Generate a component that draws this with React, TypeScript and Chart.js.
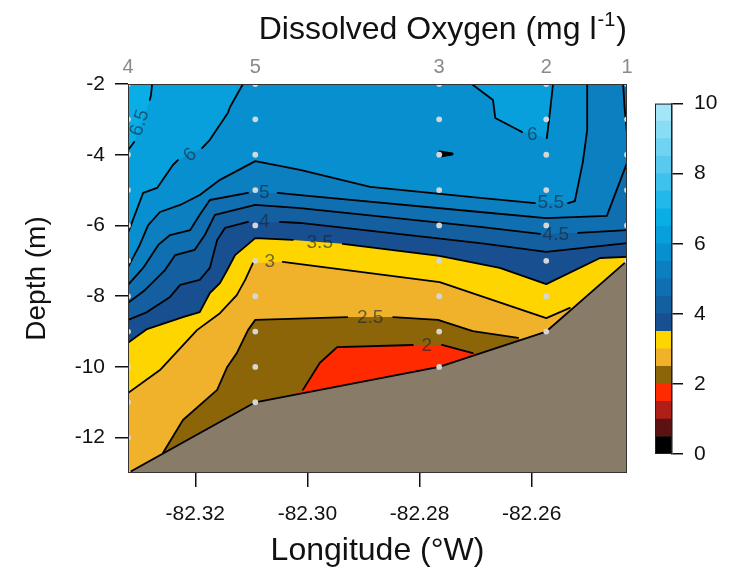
import React, { useEffect, useRef } from 'react';
import { Chart, registerables } from 'chart.js';

Chart.register(...registerables);

type Pt = [number, number] | null;

const FONT = '"Liberation Sans", Arial, Helvetica, sans-serif';

// ---- axis extents & ticks ----
const lonMin = -82.332;
const lonMax = -82.243;
const depthMin = -13;
const depthMax = -2;
const xTickValues = [-82.32, -82.3, -82.28, -82.26];
const yTickValues = [-12, -10, -8, -6, -4, -2];
const colorbarTickValues = [0, 2, 4, 6, 8, 10];

// ---- stations & samples ----
const stationNames = ['4', '5', '3', '2', '1'];
const stationLons = [-82.332, -82.3093, -82.2765, -82.2574, -82.243];
const st4Depths = [-2, -3, -4, -5, -6, -7, -8, -9, -10, -11, -12, -13];
const st5Depths = [-2, -3, -4, -5, -6, -7, -8, -9, -10, -11];
const st3Depths = [-2, -3, -4, -5, -6, -7, -8, -9, -10];
const st2Depths = [-2, -3, -4, -5, -6, -7, -8, -9];
const st1Depths = [-2, -3, -4, -5, -6, -7];
const stationDepths = [st4Depths, st5Depths, st3Depths, st2Depths, st1Depths];
const seafloorDepths = [-13, -11, -10, -9, -7];

// ---- colour scale (0..10 mg/l, 0.5 steps) ----
const bandLevels = [0, 0.5, 1, 1.5, 2, 2.5, 3, 3.5, 4, 4.5, 5, 5.5, 6, 6.5, 7, 7.5, 8, 8.5, 9, 9.5, 10];
const bandColors = [
  '#000000', '#5c1212', '#b01e18', '#ff2a00', '#8b6508', '#efb22a', '#ffd500',
  '#174f90', '#135f9f', '#0f6fb0', '#0b7fc0', '#088fcf', '#08a0dc', '#0aaee6',
  '#22b9ea', '#3ec2ec', '#58caee', '#70d3f1', '#88dcf4', '#a2e6f7',
];
const SEAFLOOR = '#887b67';

// ---- contour lines (lon, depth); null = gap for label ----
const contour65: Pt[] = [[-82.332, -3.87], [-82.3309, -3.64], null, [-82.3281, -2.45], [-82.3279, -2.31], [-82.3277, -2.0]];
const contour6Left: Pt[] = [[-82.332, -6.21], [-82.3293, -5.08], [-82.3268, -4.94], [-82.324, -4.29], [-82.3231, -4.15], null,
  [-82.3188, -3.81], [-82.3174, -3.58], [-82.3142, -2.82], [-82.3138, -2.65], [-82.3115, -2.0]];
const contour6Right: Pt[] = [[-82.2707, -2.0], [-82.2669, -2.45], [-82.2665, -2.96], [-82.2624, -3.3], [-82.2617, -3.36], null,
  [-82.2573, -3.53], [-82.2567, -2.74], [-82.2562, -2.0]];
const contour55: Pt[] = [[-82.332, -7.18], [-82.3299, -6.55], [-82.3284, -5.99], [-82.3263, -5.62], [-82.3227, -5.42],
  [-82.3192, -5.14], [-82.3156, -4.71], [-82.3093, -4.18], [-82.3013, -4.43], [-82.2888, -4.91], [-82.2692, -5.22],
  [-82.2594, -5.37], null, [-82.2535, -5.37], [-82.2523, -5.31], [-82.2509, -4.23], [-82.2501, -3.3], [-82.2501, -2.0]];
const contour5: Pt[] = [[-82.332, -7.68], [-82.3293, -7.2], [-82.3266, -6.55], [-82.3245, -6.27], [-82.3209, -6.13],
  [-82.3192, -5.7], [-82.3174, -5.28], [-82.3106, -5.08], null, [-82.3053, -5.08], [-82.3013, -5.14], [-82.2692, -5.62],
  [-82.2574, -5.79], [-82.2466, -5.73], [-82.243, -4.23]];
const contour5Corner: Pt[] = [[-82.2437, -2.0], [-82.2434, -2.74], [-82.243, -3.39]];
const contour45: Pt[] = [[-82.332, -8.19], [-82.329, -7.83], [-82.3254, -7.26], [-82.3236, -6.84], [-82.3201, -6.69],
  [-82.3183, -6.27], [-82.3165, -5.7], [-82.3093, -5.42], [-82.3013, -5.51], [-82.2692, -6.04], [-82.2585, -6.24], null,
  [-82.2517, -6.21], [-82.243, -6.13]];
const contour4: Pt[] = [[-82.332, -8.67], [-82.3286, -8.45], [-82.3245, -8.02], [-82.3227, -7.68], [-82.3192, -7.54],
  [-82.3174, -7.2], [-82.3161, -6.41], [-82.3147, -6.07], [-82.3106, -5.9], null, [-82.3049, -5.9], [-82.3013, -5.93],
  [-82.2692, -6.5], [-82.2574, -6.75], [-82.243, -6.5]];
const contour35: Pt[] = [[-82.332, -9.32], [-82.3286, -8.93], [-82.3222, -8.59], [-82.3192, -8.45], [-82.3174, -7.91],
  [-82.3156, -7.63], [-82.3143, -7.26], [-82.3129, -6.84], [-82.3093, -6.36], [-82.3026, -6.41], null,
  [-82.2937, -6.52], [-82.2765, -6.86], [-82.2657, -7.2], [-82.2574, -7.66], [-82.2478, -6.92], [-82.243, -6.89]];
const contour3: Pt[] = [[-82.332, -10.74], [-82.3263, -10.09], [-82.3197, -8.96], [-82.3156, -8.48], [-82.3126, -7.97],
  [-82.3111, -7.54], [-82.3097, -7.06], null, [-82.3044, -7.03], [-82.2764, -7.6], [-82.2574, -8.62], [-82.2532, -8.33]];
const contour25: Pt[] = [[-82.3258, -12.44], [-82.3222, -11.5], [-82.3161, -10.65], [-82.3143, -10.0], [-82.3126, -9.61],
  [-82.3106, -8.96], [-82.3093, -8.67], [-82.2929, -8.59], null, [-82.2847, -8.59], [-82.2767, -8.67], [-82.2705, -8.99],
  [-82.2624, -9.18]];
const contour2: Pt[] = [[-82.3008, -10.65], [-82.2978, -9.89], [-82.2947, -9.44], [-82.2812, -9.38], null,
  [-82.276, -9.38], [-82.2705, -9.61]];
const contourTiny: Pt[] = [[-82.2764, -3.92], [-82.2742, -3.98], [-82.2764, -4.04]];

// ---- contour labels ----
const labelTexts = ['6.5', '6', '6', '5', '4', '3', '3.5', '5.5', '4.5', '2.5', '2'];
const labelLons = [-82.3299, -82.3209, -82.2599, -82.3077, -82.3077, -82.3067, -82.2978, -82.2566, -82.2557, -82.2888, -82.2787];
const labelDepths = [-3.1, -4.01, -3.44, -5.08, -5.9, -7.03, -6.5, -5.37, -6.27, -8.62, -9.41];
const labelAngles = [-72, -40, 0, 0, 0, 0, 0, 0, 0, 0, 0];

const titleMain = 'Dissolved Oxygen (mg l';
const titleSup = '-1';
const titleClose = ')';

const bandColor = (lvl: number) => bandColors[bandLevels.indexOf(lvl)];

const TL: Pt = [lonMin, depthMax];
const TR: Pt = [lonMax, depthMax];
const BR: Pt = [lonMax, depthMin];
const BL: Pt = [lonMin, depthMin];
const seafloor: Pt[] = stationLons.map((l, i) => [l, seafloorDepths[i]] as Pt);

const poly = (pts: Pt[], color: string) => ({
  data: pts.filter((p) => p !== null).map((p) => ({ x: (p as number[])[0], y: (p as number[])[1] })),
  showLine: true,
  fill: 'shape',
  backgroundColor: color,
  borderWidth: 0,
  pointRadius: 0,
  tension: 0,
});

const line = (pts: Pt[], width = 1.8) => ({
  data: pts.map((p, i) =>
    p ? { x: p[0], y: p[1] } : { x: (pts[i - 1] as number[])[0], y: null }
  ),
  showLine: true,
  fill: false,
  borderColor: '#000',
  backgroundColor: '#000',
  borderWidth: width,
  pointRadius: 0,
  tension: 0,
  spanGaps: false,
  borderJoinStyle: 'round',
  borderCapStyle: 'round',
});

const tickPlugin = {
  id: 'frameAndLabels',
  afterDatasetsDraw(chart: any) {
    const { ctx, chartArea, scales } = chart;
    ctx.save();
    ctx.font = `19px ${FONT}`;
    ctx.fillStyle = 'rgba(25,35,50,0.62)';
    ctx.textAlign = 'center';
    ctx.textBaseline = 'middle';
    labelTexts.forEach((t, i) => {
      const px = scales.x.getPixelForValue(labelLons[i]);
      const py = scales.y.getPixelForValue(labelDepths[i]);
      ctx.save();
      ctx.translate(px, py);
      ctx.rotate((labelAngles[i] * Math.PI) / 180);
      ctx.fillText(t, 0, 0);
      ctx.restore();
    });
    ctx.strokeStyle = '#333';
    ctx.lineWidth = 1;
    ctx.strokeRect(chartArea.left + 0.5, chartArea.top + 0.5, chartArea.right - chartArea.left - 1, chartArea.bottom - chartArea.top - 1);
    ctx.restore();
  },
  afterDraw(chart: any) {
    const { ctx, chartArea } = chart;
    ctx.save();
    ctx.fillStyle = '#111';
    ctx.textBaseline = 'alphabetic';
    ctx.textAlign = 'left';
    ctx.font = `32px ${FONT}`;
    const wMain = ctx.measureText(titleMain).width;
    const wClose = ctx.measureText(titleClose).width;
    ctx.font = `20px ${FONT}`;
    const wSup = ctx.measureText(titleSup).width;
    const x0 = chartArea.right - wClose - wSup - wMain - 2;
    const base = 39;
    ctx.font = `32px ${FONT}`;
    ctx.fillText(titleMain, x0, base);
    ctx.font = `20px ${FONT}`;
    ctx.fillText(titleSup, x0 + wMain + 1, base - 13);
    ctx.font = `32px ${FONT}`;
    ctx.fillText(titleClose, x0 + wMain + wSup + 2, base);
    ctx.restore();
  },
};

const outlinePlugin = {
  id: 'cbOutline',
  afterDatasetsDraw(chart: any) {
    const { ctx, chartArea } = chart;
    ctx.save();
    ctx.strokeStyle = '#222';
    ctx.lineWidth = 1;
    ctx.strokeRect(chartArea.left + 0.5, chartArea.top + 0.5, chartArea.right - chartArea.left - 1, chartArea.bottom - chartArea.top - 1);
    ctx.restore();
  },
};

export default function App() {
  const mainRef = useRef<HTMLCanvasElement>(null);
  const barRef = useRef<HTMLCanvasElement>(null);

  useEffect(() => {
    const layers: any[] = [
      poly([BL, TL, TR, BR], bandColor(5.5)),
      poly([TL, ...contour6Left], bandColor(6)),
      poly([TL, ...contour65], bandColor(6.5)),
      poly(contour6Right, bandColor(6)),
      poly([BL, ...contour55, TR, BR], bandColor(5)),
      poly([BL, ...contour5, BR], bandColor(4.5)),
      poly([...contour5Corner, TR], bandColor(4.5)),
      poly([BL, ...contour45, BR], bandColor(4)),
      poly([BL, ...contour4, BR], bandColor(3.5)),
      poly([BL, ...contour35, BR], bandColor(3)),
      poly([BL, ...contour3, BR], bandColor(2.5)),
      poly([BL, ...contour25, BR], bandColor(2)),
      poly([BL, ...contour2, BR], bandColor(1.5)),
      poly([...seafloor, BR], SEAFLOOR),
      line(contour65),
      line(contour6Left),
      line(contour6Right),
      line(contour55),
      line(contour5),
      line(contour5Corner),
      line(contour45),
      line(contour4),
      line(contour35),
      line(contour3),
      line(contour25),
      line(contour2),
      line(contourTiny, 3),
      line(seafloor),
      {
        data: stationLons.flatMap((lon, i) => stationDepths[i].map((d) => ({ x: lon, y: d }))),
        showLine: false,
        pointRadius: 2.9,
        pointBackgroundColor: '#d6d6d6',
        pointBorderWidth: 0,
        backgroundColor: '#d6d6d6',
        borderWidth: 0,
      },
    ];
    const datasets = layers.map((d, i) => ({ ...d, order: layers.length - i }));

    const main = new Chart(mainRef.current as HTMLCanvasElement, {
      type: 'scatter',
      data: { datasets },
      options: {
        responsive: false,
        animation: false,
        events: [],
        layout: { padding: { left: 0, right: 113, top: 0, bottom: 0 } },
        plugins: { legend: { display: false }, tooltip: { enabled: false }, title: { display: false } },
        scales: {
          x: {
            type: 'linear',
            position: 'bottom',
            min: lonMin,
            max: lonMax,
            afterBuildTicks: (s: any) => { s.ticks = xTickValues.map((v) => ({ value: v })); },
            afterFit: (s: any) => { s.height = 98; },
            grid: { drawOnChartArea: false, drawTicks: true, tickLength: 14, color: '#111', lineWidth: 1.5 },
            border: { display: false },
            ticks: {
              autoSkip: false, maxRotation: 0, padding: 15, color: '#111',
              font: { family: FONT, size: 21 },
              callback: (v: any) => Number(v).toFixed(2),
            },
            title: {
              display: true, text: 'Longitude (°W)', color: '#111',
              font: { family: FONT, size: 32, lineHeight: 1.2 }, padding: { top: 0, bottom: 1 },
            },
          },
          x2: {
            type: 'linear',
            axis: 'x',
            position: 'top',
            min: lonMin,
            max: lonMax,
            afterBuildTicks: (s: any) => { s.ticks = stationLons.map((v) => ({ value: v })); },
            afterFit: (s: any) => { s.height = 84; },
            grid: { display: false, drawTicks: false },
            border: { display: false },
            ticks: {
              autoSkip: false, maxRotation: 0, padding: 5, color: '#8a8a8a',
              font: { family: FONT, size: 20 },
              callback: (_v: any, i: number) => stationNames[i],
            },
          },
          y: {
            type: 'linear',
            position: 'left',
            min: depthMin,
            max: depthMax,
            afterBuildTicks: (s: any) => { s.ticks = yTickValues.map((v) => ({ value: v })); },
            afterFit: (s: any) => { s.width = 128; },
            grid: { drawOnChartArea: false, drawTicks: true, tickLength: 13, color: '#111', lineWidth: 1.5 },
            border: { display: false },
            ticks: { padding: 10, color: '#111', font: { family: FONT, size: 21 } },
            title: {
              display: true, text: 'Depth (m)', color: '#111',
              font: { family: FONT, size: 28, lineHeight: 1.2 }, padding: { top: 20, bottom: 0 },
            },
          },
        },
      } as any,
      plugins: [tickPlugin],
    } as any);

    const bar = new Chart(barRef.current as HTMLCanvasElement, {
      type: 'bar',
      data: {
        labels: [''],
        datasets: bandColors.map((c, i) => ({
          data: [bandLevels[i + 1] - bandLevels[i]],
          backgroundColor: c,
          borderWidth: 0,
          barPercentage: 1,
          categoryPercentage: 1,
        })),
      },
      options: {
        responsive: false,
        animation: false,
        events: [],
        layout: { padding: { left: 15, top: 21, bottom: 26, right: 0 } },
        plugins: { legend: { display: false }, tooltip: { enabled: false } },
        scales: {
          x: { display: false, stacked: true },
          y: {
            position: 'right',
            stacked: true,
            min: 0,
            max: 10,
            afterBuildTicks: (s: any) => { s.ticks = colorbarTickValues.map((v) => ({ value: v })); },
            afterFit: (s: any) => { s.width = 68; },
            grid: { drawOnChartArea: false, drawTicks: true, tickLength: 11, color: '#111', lineWidth: 1.5 },
            border: { display: true, color: '#111', width: 1.5 },
            ticks: { padding: 11, color: '#111', font: { family: FONT, size: 21 } },
          },
        },
      } as any,
      plugins: [outlinePlugin],
    } as any);

    return () => {
      main.destroy();
      bar.destroy();
    };
  }, []);

  return (
    <div style={{ position: 'absolute', left: 0, top: 0, width: 740, height: 571, background: '#fff' }}>
      <canvas ref={mainRef} width={740} height={571} style={{ position: 'absolute', left: 0, top: 0, width: 740, height: 571 }} />
      <canvas ref={barRef} width={100} height={400} style={{ position: 'absolute', left: 640, top: 80, width: 100, height: 400 }} />
    </div>
  );
}
